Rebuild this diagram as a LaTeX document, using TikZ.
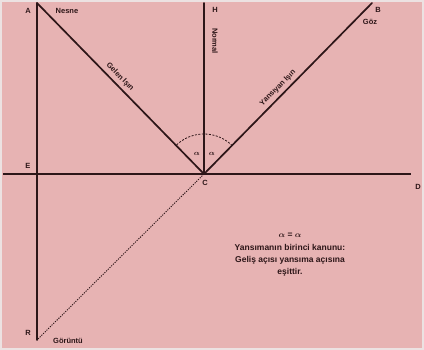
\documentclass[tikz,border=0pt]{standalone}
\usepackage{amsmath}
\usepackage{fontspec}
\setmainfont{Liberation Sans}
\definecolor{bgpink}{RGB}{231,179,179}
\definecolor{rayink}{RGB}{45,22,24}
\definecolor{framegray}{RGB}{236,226,226}

\begin{document}
\begin{tikzpicture}[x=1pt,y=-1pt]
\tikzset{
  lbl/.style={inner sep=0pt,font=\bfseries\fontsize{7.5}{8}\selectfont,text=rayink},
  note/.style={lbl,align=center,font=\bfseries\fontsize{8.5}{12}\selectfont},
  ray/.style={draw=rayink,line width=1.7pt,line cap=round},
  mirror/.style={draw=rayink,line width=1.7pt},
  virtual/.style={draw=rayink,line width=0.9pt,dash pattern=on 1.2pt off 1.2pt},
  anglearc/.style={draw=rayink,line width=0.8pt,dash pattern=on 2pt off 1.5pt}
}
\useasboundingbox (0,0) rectangle (424,350);
\fill[framegray] (0,0) rectangle (424,350);
\fill[bgpink] (2,2) rectangle (422,348);
% points
\coordinate (p_A) at (37,3);
\coordinate (p_H) at (204,3);
\coordinate (p_B) at (372,3);
\coordinate (p_C) at (204,174);
\coordinate (p_L) at (3,174);
\coordinate (p_D) at (411,174);
\coordinate (p_R) at (37,340);
% lines
\draw[mirror] (p_L) -- (p_D);
\draw[ray] (p_A) -- (p_R);
\draw[ray] (p_H) -- (p_C);
\draw[ray] (p_A) -- (p_C);
\draw[ray] (p_C) -- (p_B);
\draw[virtual] (p_C) -- (p_R);
\draw[anglearc] ([shift={(-45:40)}]p_C) arc[start angle=-45,end angle=-135,radius=40];
% labels
\node[lbl] (n_A) at (28,11) {A};
\node[lbl] (n_nesne) at (67,11) {Nesne};
\node[lbl] (n_H) at (215,10) {H};
\node[lbl,rotate=-90] (n_normal) at (215,41) {Normal};
\node[lbl] (n_B) at (378,10) {B};
\node[lbl] (n_goz) at (370,22) {Göz};
\node[lbl] (n_E) at (28,166) {E};
\node[lbl] (n_C) at (205,183) {C};
\node[lbl] (n_D) at (418,187) {D};
\node[lbl] (n_R) at (28,333) {R};
\node[lbl] (n_goruntu) at (68,341) {Görüntü};
\node[lbl,rotate=-45.7] (n_gelen) at (120,77) {Gelen Işın};
\node[lbl,rotate=45.5] (n_yansiyan) at (278,88) {Yansıyan Işın};
\node[lbl] (n_a1) at (197,154) {$\boldsymbol{\alpha}$};
\node[lbl] (n_a2) at (212,154) {$\boldsymbol{\alpha}$};
\node[note] (n_eq) at (290,235) {$\boldsymbol{\alpha}$ = $\boldsymbol{\alpha}$};
\node[note] (n_kanun) at (290,260) {Yansımanın birinci kanunu:\\Geliş açısı yansıma açısına\\eşittir.};
\end{tikzpicture}
\end{document}
